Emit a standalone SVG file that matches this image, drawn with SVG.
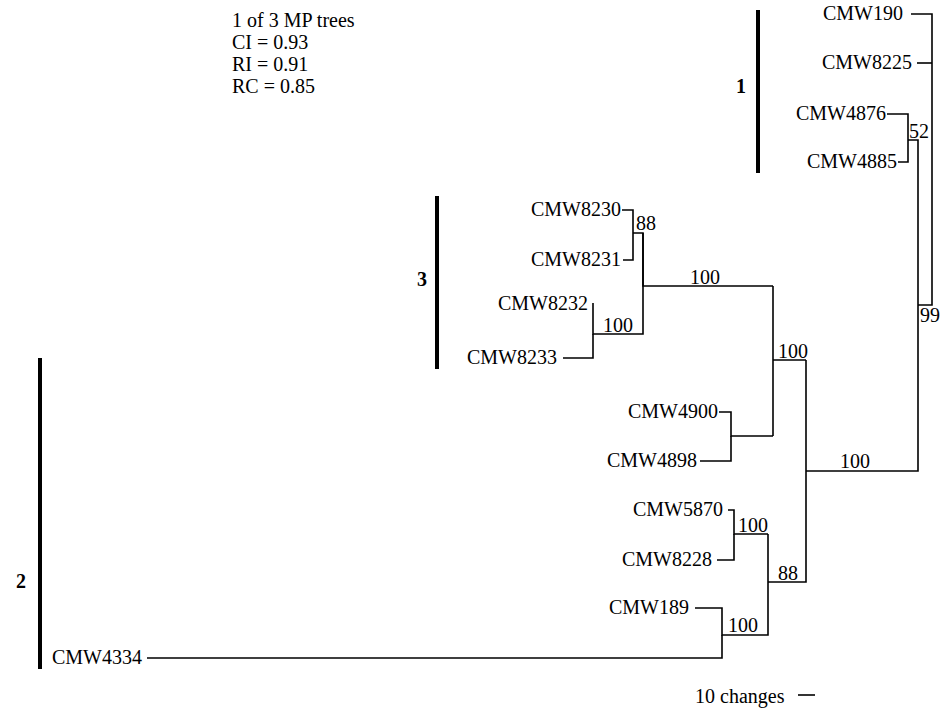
<svg xmlns="http://www.w3.org/2000/svg" width="949" height="713" viewBox="0 0 949 713" font-family="Liberation Serif, serif">
<style>
text{font-family:'Liberation Serif',serif;font-size:20px;fill:#000}
.t{text-anchor:end}
.b{font-weight:bold}
.e{fill:none;stroke:#000;stroke-width:1.6}
.bar{stroke:#000;stroke-width:4}
</style>
<rect width="949" height="713" fill="#fff"/>
<g id="info">
<text x="232" y="27">1 of 3 MP trees</text>
<text x="232" y="49">CI = 0.93</text>
<text x="232" y="71">RI = 0.91</text>
<text x="232" y="93">RC = 0.85</text>
</g>
<g id="connectors" class="e">
<path d="M911 14H932V305H918"/>
<path d="M917 63H932"/>
<path d="M887 114H908V162H898"/>
<path d="M908 140H918V471H806"/>
<path d="M806 360V582H768"/>
<path d="M806 360H773"/>
<path d="M773 286V436"/>
<path d="M773 286H643V233H633"/>
<path d="M622 210H633V260H623"/>
<path d="M643 233V334H593V303"/>
<path d="M563 358H593V334"/>
<path d="M773 436H731V412H719"/>
<path d="M700 461H731V436"/>
<path d="M768 534H734V510H728"/>
<path d="M717 560H734V534"/>
<path d="M768 534V635H722V608H695"/>
<path d="M147 658H722V635"/>
<path d="M798 695H815"/>
</g>
<g id="CMW190"><text class="t" x="903" y="20">CMW190</text></g>
<g id="CMW8225"><text class="t" x="912" y="69">CMW8225</text></g>
<g id="CMW4876"><text class="t" x="886" y="120">CMW4876</text></g>
<g id="CMW4885"><text class="t" x="897" y="168">CMW4885</text></g>
<g id="CMW8230"><text class="t" x="621" y="216">CMW8230</text></g>
<g id="CMW8231"><text class="t" x="621" y="266">CMW8231</text></g>
<g id="CMW8232"><text class="t" x="588" y="310">CMW8232</text></g>
<g id="CMW8233"><text class="t" x="557" y="364">CMW8233</text></g>
<g id="CMW4900"><text class="t" x="718" y="418">CMW4900</text></g>
<g id="CMW4898"><text class="t" x="697" y="467">CMW4898</text></g>
<g id="CMW5870"><text class="t" x="723" y="516">CMW5870</text></g>
<g id="CMW8228"><text class="t" x="712" y="566">CMW8228</text></g>
<g id="CMW189"><text class="t" x="689" y="614">CMW189</text></g>
<g id="CMW4334"><text class="t" x="142" y="664">CMW4334</text></g>
<g id="support">
<text x="909" y="138">52</text>
<text x="920" y="322">99</text>
<text x="840" y="468">100</text>
<text x="778" y="358">100</text>
<text x="690" y="284">100</text>
<text x="603" y="332">100</text>
<text x="636" y="230">88</text>
<text x="738" y="532">100</text>
<text x="778" y="580">88</text>
<text x="728" y="632">100</text>
</g>
<g id="clade1"><line class="bar" x1="758" y1="10" x2="758" y2="173"/><text class="b" x="736" y="93">1</text></g>
<g id="clade2"><line class="bar" x1="40" y1="358" x2="40" y2="669"/><text class="b" x="16" y="588">2</text></g>
<g id="clade3"><line class="bar" x1="437" y1="196" x2="437" y2="369"/><text class="b" x="417" y="286">3</text></g>
<g id="scale"><text x="695" y="703">10 changes</text></g>
</svg>
